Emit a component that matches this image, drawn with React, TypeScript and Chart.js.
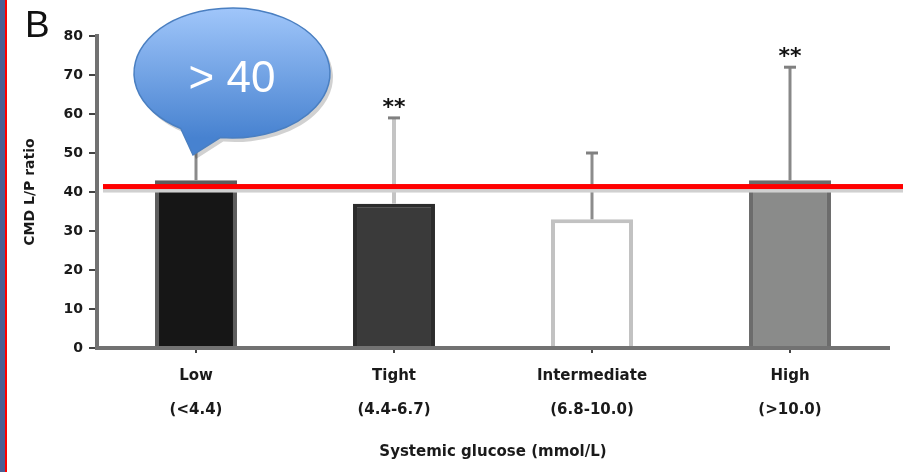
import React, { useEffect, useRef } from 'react';
import { Chart, registerables } from 'chart.js';

Chart.register(...registerables);

// ---- data ----
const categories = ['Low', 'Tight', 'Intermediate', 'High'];
const glucoseRanges = ['(<4.4)', '(4.4-6.7)', '(6.8-10.0)', '(>10.0)'];
const meanRatio = [43, 37, 33, 43];
const errorUpper = [52, 59, 50, 72];
const significance = ['', '**', '', '**'];
const thresholdValue = 41.4;
const calloutText = '> 40';
const calloutValue = 70.5;
const calloutTipValue = 49.5;
const panelLabel = 'B';
const yAxisTitle = 'CMD L/P ratio';
const xAxisTitle = 'Systemic glucose (mmol/L)';
const yMin = 0;
const yMax = 80;
const yStep = 10;

// ---- styles ----
const barFill = ['#161616', '#3a3a3a', '#ffffff', '#8a8b8a'];
const barBorder = ['#5e5e5e', '#2c2c2c', '#c2c2c2', '#6c6c6c'];
const errColor = ['#8a8a8a', '#c4c4c4', '#8c8c8c', '#888888'];
const errWidth = [3, 4, 3, 3];

const overlayPlugin = {
  id: 'overlay',
  beforeDraw(chart: any) {
    const ctx = chart.ctx;
    ctx.save();
    ctx.fillStyle = '#ffffff';
    ctx.fillRect(0, 0, chart.width, chart.height);
    // left frame strip
    ctx.fillStyle = '#4a5e93';
    ctx.fillRect(0, 0, 5, chart.height);
    ctx.fillStyle = '#ff0000';
    ctx.fillRect(5, 0, 2, chart.height);
    // panel label
    ctx.fillStyle = '#111111';
    ctx.font = '37px "Liberation Sans", Arial, sans-serif';
    ctx.textAlign = 'left';
    ctx.textBaseline = 'alphabetic';
    ctx.fillText(panelLabel, 25, 37);
    ctx.restore();
  },
  afterDatasetsDraw(chart: any) {
    const ctx = chart.ctx;
    const y = chart.scales.y;
    const meta = chart.getDatasetMeta(0);
    ctx.save();
    // error bars
    meta.data.forEach((bar: any, i: number) => {
      const x = bar.x;
      const yTop = y.getPixelForValue(errorUpper[i]);
      const yBar = y.getPixelForValue(meanRatio[i]);
      ctx.strokeStyle = errColor[i];
      ctx.lineWidth = errWidth[i];
      ctx.beginPath();
      ctx.moveTo(x, yBar);
      ctx.lineTo(x, yTop);
      ctx.stroke();
      ctx.lineWidth = 3;
      ctx.strokeStyle = '#808080';
      ctx.beginPath();
      ctx.moveTo(x - 6, yTop);
      ctx.lineTo(x + 6, yTop);
      ctx.stroke();
      if (significance[i]) {
        ctx.fillStyle = '#111111';
        ctx.font = 'bold 22px "DejaVu Sans", sans-serif';
        ctx.textAlign = 'center';
        ctx.textBaseline = 'alphabetic';
        ctx.fillText(significance[i], x, yTop - 4);
      }
    });
    // threshold line
    const ty = y.getPixelForValue(thresholdValue);
    ctx.fillStyle = '#d0d0d0';
    ctx.fillRect(chart.chartArea.left + 6, ty + 2, chart.width, 4);
    ctx.fillStyle = '#ff0000';
    ctx.fillRect(chart.chartArea.left + 6, ty - 2.5, chart.width, 5);

    // callout bubble
    const x0 = chart.scales.x.getPixelForValue(0);
    const cx = x0 + 36;
    const cy = y.getPixelForValue(calloutValue);
    const rx = 98;
    const ry = 65;
    const tipX = x0 - 3;
    const tipY = y.getPixelForValue(calloutTipValue);
    const path = () => {
      ctx.beginPath();
      ctx.ellipse(cx, cy, rx, ry, 0, Math.PI * 0.5 + 0.55, Math.PI * 0.5 + 0.12, false);
      ctx.lineTo(tipX, tipY);
      ctx.closePath();
    };
    ctx.save();
    ctx.translate(3, 4);
    path();
    ctx.fillStyle = 'rgba(0,0,0,0.18)';
    ctx.fill();
    ctx.restore();
    path();
    const grad = ctx.createLinearGradient(0, cy - ry, 0, cy + ry);
    grad.addColorStop(0, '#a0c6fa');
    grad.addColorStop(1, '#4782d0');
    ctx.fillStyle = grad;
    ctx.fill();
    ctx.strokeStyle = '#4a7fc1';
    ctx.lineWidth = 1.5;
    ctx.stroke();
    ctx.fillStyle = '#ffffff';
    ctx.font = '44px "Liberation Sans", Arial, sans-serif';
    ctx.textAlign = 'center';
    ctx.textBaseline = 'alphabetic';
    ctx.fillText(calloutText, cx, cy + 19);
    ctx.restore();
  },
};

export default function App() {
  const ref = useRef<HTMLCanvasElement | null>(null);
  useEffect(() => {
    document.body.style.margin = '0';
    const canvas = ref.current;
    if (!canvas) return;
    const chart = new Chart(canvas, {
      type: 'bar',
      data: {
        labels: categories.map((c, i) => [c, glucoseRanges[i]]),
        datasets: [
          {
            data: meanRatio,
            backgroundColor: barFill,
            borderColor: barBorder,
            borderWidth: 4,
            borderSkipped: 'start',
            barPercentage: 1,
            categoryPercentage: 0.414,
          },
        ],
      },
      options: {
        animation: false,
        responsive: false,
        devicePixelRatio: 1,
        layout: { padding: { top: 36, right: 14, left: 0, bottom: 0 } },
        plugins: { legend: { display: false }, tooltip: { enabled: false }, title: { display: false } },
        scales: {
          x: {
            afterFit: (s: any) => { s.height = 124; },
            grid: { drawOnChartArea: false, offset: false, tickLength: 5, color: '#444444', lineWidth: 2 },
            border: { display: true, color: '#727272', width: 4, z: 1 },
            ticks: {
              color: '#1a1a1a',
              padding: 6,
              font: { family: '"DejaVu Sans", sans-serif', size: 15, weight: 'bold', lineHeight: '34px' },
              maxRotation: 0,
              autoSkip: false,
            },
            title: {
              display: true,
              text: xAxisTitle,
              color: '#1a1a1a',
              font: { family: '"DejaVu Sans", sans-serif', size: 15, weight: 'bold' },
              padding: { top: 0, bottom: 11 },
            },
          },
          y: {
            min: yMin,
            max: yMax,
            afterFit: (s: any) => { s.width = 97; },
            grid: { drawOnChartArea: false, tickLength: 8, color: '#444444', lineWidth: 2 },
            border: { display: true, color: '#727272', width: 4, z: 1 },
            ticks: {
              stepSize: yStep,
              color: '#1a1a1a',
              padding: 6,
              font: { family: '"DejaVu Sans", sans-serif', size: 14, weight: 'bold' },
            },
            title: {
              display: true,
              text: yAxisTitle,
              color: '#1a1a1a',
              font: { family: '"DejaVu Sans", sans-serif', size: 14, weight: 'bold' },
              padding: { top: 22, bottom: 0 },
            },
          },
        },
      },
      plugins: [overlayPlugin],
    } as any);
    return () => chart.destroy();
  }, []);
  return (
    <div style={{ width: 903, height: 472 }}>
      <canvas ref={ref} width={903} height={472} style={{ display: 'block', width: 903, height: 472 }} />
    </div>
  );
}
